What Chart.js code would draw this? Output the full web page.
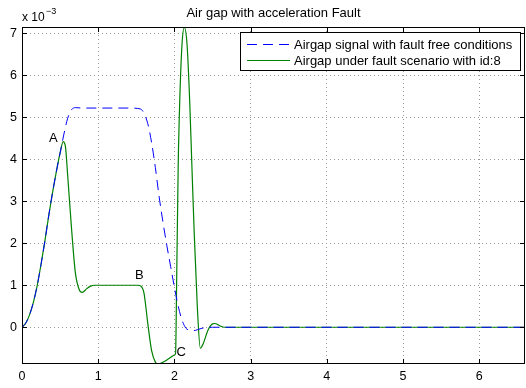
<!DOCTYPE html>
<html>
<head>
<meta charset="utf-8">
<script src="https://cdn.jsdelivr.net/npm/chart.js@4/dist/chart.umd.min.js"></script>
<style>
  html, body { margin: 0; padding: 0; background: #fff; }
  canvas { display: block; }
</style>
</head>
<body>
<canvas id="c" width="526" height="388"></canvas>
<script>
// ---- data (air gap values in units of 1e-3) ----
const titleText = 'Air gap with acceleration Fault';
const seriesLabels = ['Airgap signal with fault free conditions', 'Airgap under fault scenario with id:8'];
const xTicks = [0, 1, 2, 3, 4, 5, 6];
const yTicks = [0, 1, 2, 3, 4, 5, 6, 7];

const timeFree = [0, 0.05, 0.1, 0.15, 0.2, 0.25, 0.3, 0.35, 0.4, 0.45, 0.5, 0.55, 0.6, 0.65, 0.7, 0.8, 1.0, 1.2, 1.4, 1.55, 1.6, 1.65, 1.7, 1.75, 1.8, 1.85, 1.9, 1.95, 2.0, 2.05, 2.1, 2.15, 2.2, 2.25, 2.3, 2.35, 2.4, 2.5, 3, 4, 5, 6, 6.6];
const airgapFree = [0, 0.1, 0.3, 0.6, 1.0, 1.5, 2.05, 2.65, 3.2, 3.7, 4.15, 4.6, 4.98, 5.18, 5.23, 5.22, 5.22, 5.22, 5.22, 5.2, 5.1, 4.85, 4.4, 3.8, 3.1, 2.5, 1.95, 1.45, 0.95, 0.5, 0.17, -0.02, -0.07, -0.08, -0.06, -0.03, -0.01, 0, 0, 0, 0, 0, 0];

const timeFault = [0, 0.05, 0.1, 0.15, 0.2, 0.25, 0.3, 0.35, 0.4, 0.45, 0.5, 0.54, 0.57, 0.6, 0.65, 0.7, 0.75, 0.79, 0.85, 0.9, 0.95, 1.2, 1.52, 1.56, 1.6, 1.65, 1.7, 1.75, 1.78, 1.82, 1.9, 1.95, 2.0, 2.015, 2.03, 2.05, 2.07, 2.1, 2.13, 2.165, 2.2, 2.23, 2.26, 2.3, 2.34, 2.38, 2.44, 2.5, 2.53, 2.6, 2.66, 3, 4, 5, 6, 6.6];
const airgapFault = [0, 0.1, 0.3, 0.6, 1.0, 1.5, 2.05, 2.65, 3.2, 3.7, 4.15, 4.42, 4.3, 3.6, 2.35, 1.3, 0.9, 0.83, 0.92, 0.98, 1.0, 1.0, 1.0, 0.98, 0.82, 0.1, -0.55, -0.83, -0.88, -0.86, -0.78, -0.72, -0.66, -0.62, 1.2, 3.9, 5.4, 6.75, 7.14, 6.75, 5.4, 3.8, 2.23, 0.5, -0.5, -0.38, -0.07, 0.08, 0.09, 0.03, 0, 0, 0, 0, 0, 0];

const notes = [
  { text: 'A', x: 0.41, y: 4.49 },
  { text: 'B', x: 1.54, y: 1.24 },
  { text: 'C', x: 2.09, y: -0.59 }
];

// ---- chart ----
const FONT = '"Liberation Sans", Arial, Helvetica, sans-serif';
Chart.defaults.font.family = FONT;
Chart.defaults.font.size = 12;
Chart.defaults.color = '#000';

const toPoints = (xs, ys) => xs.map((v, i) => ({ x: v, y: ys[i] }));

const overlay = {
  id: 'overlay',
  afterDraw(chart) {
    const { ctx, chartArea: a, scales: { x, y } } = chart;
    ctx.save();
    ctx.strokeStyle = '#000';
    ctx.lineWidth = 1;
    // axes box
    ctx.strokeRect(a.left + 0.5, a.top + 0.5, a.right - a.left - 1, a.bottom - a.top - 1);
    // inward ticks
    ctx.beginPath();
    xTicks.forEach(v => {
      const px = Math.round(x.getPixelForValue(v)) + 0.5;
      ctx.moveTo(px, a.bottom); ctx.lineTo(px, a.bottom - 5);
      ctx.moveTo(px, a.top); ctx.lineTo(px, a.top + 5);
    });
    yTicks.forEach(v => {
      const py = Math.round(y.getPixelForValue(v)) + 0.5;
      ctx.moveTo(a.left, py); ctx.lineTo(a.left + 5, py);
      ctx.moveTo(a.right, py); ctx.lineTo(a.right - 5, py);
    });
    ctx.stroke();

    ctx.fillStyle = '#000';
    // title
    ctx.font = '13px ' + FONT;
    ctx.textAlign = 'center';
    ctx.textBaseline = 'alphabetic';
    ctx.fillText(titleText, (a.left + a.right) / 2, 16.5);
    // exponent label
    ctx.font = '12px ' + FONT;
    ctx.textAlign = 'left';
    ctx.fillText('x 10', a.left, 20.5);
    ctx.font = '9px ' + FONT;
    ctx.fillText('\u22123', a.left + 24, 13.5);

    // annotations
    ctx.font = '13px ' + FONT;
    ctx.textAlign = 'center';
    ctx.textBaseline = 'middle';
    notes.forEach(n => ctx.fillText(n.text, x.getPixelForValue(n.x), y.getPixelForValue(n.y)));

    // legend
    const bx = 240.5, by = 32.5, bw = 280, bh = 38;
    ctx.fillStyle = '#fff';
    ctx.fillRect(bx, by, bw, bh);
    ctx.strokeStyle = '#000';
    ctx.lineWidth = 1;
    ctx.strokeRect(bx, by, bw, bh);
    const rows = [44.5, 60.5];
    chart.data.datasets.forEach((ds, i) => {
      ctx.save();
      ctx.strokeStyle = ds.borderColor;
      ctx.lineWidth = ds.borderWidth;
      ctx.setLineDash(ds.borderDash || []);
      ctx.beginPath();
      ctx.moveTo(247, rows[i]);
      ctx.lineTo(290, rows[i]);
      ctx.stroke();
      ctx.restore();
      ctx.fillStyle = '#000';
      ctx.textAlign = 'left';
      ctx.textBaseline = 'middle';
      ctx.font = '13px ' + FONT;
      ctx.fillText(ds.label, 294, rows[i] + 0.5);
    });
    ctx.restore();
  }
};

new Chart(document.getElementById('c'), {
  type: 'line',
  data: {
    datasets: [
      {
        label: seriesLabels[0],
        data: toPoints(timeFree, airgapFree),
        borderColor: '#0000ff',
        borderWidth: 1,
        borderDash: [10, 6],
        pointRadius: 0,
        fill: false,
        cubicInterpolationMode: 'monotone'
      },
      {
        label: seriesLabels[1],
        data: toPoints(timeFault, airgapFault),
        borderColor: '#008000',
        borderWidth: 1.2,
        pointRadius: 0,
        fill: false,
        cubicInterpolationMode: 'monotone'
      }
    ]
  },
  options: {
    responsive: false,
    animation: false,
    events: [],
    layout: { padding: { top: 27, right: 1, left: 0, bottom: 0 } },
    plugins: { legend: { display: false }, title: { display: false }, tooltip: { enabled: false } },
    scales: {
      x: {
        type: 'linear',
        min: 0,
        max: 6.6,
        afterBuildTicks: s => { s.ticks = xTicks.map(v => ({ value: v })); },
        afterFit: s => { s.height = 24; },
        ticks: { padding: 5, maxRotation: 0, autoSkip: false, font: { size: 12.5 } },
        grid: { color: '#999', lineWidth: 1, drawTicks: false },
        border: { display: false, dash: [1, 3] }
      },
      y: {
        type: 'linear',
        min: -0.875,
        max: 7.15,
        afterBuildTicks: s => { s.ticks = yTicks.map(v => ({ value: v })); },
        afterFit: s => { s.width = 22; },
        ticks: { padding: 5, autoSkip: false, font: { size: 12.5 } },
        grid: { color: '#999', lineWidth: 1, drawTicks: false },
        border: { display: false, dash: [1, 3] }
      }
    }
  },
  plugins: [overlay]
});
</script>
</body>
</html>
